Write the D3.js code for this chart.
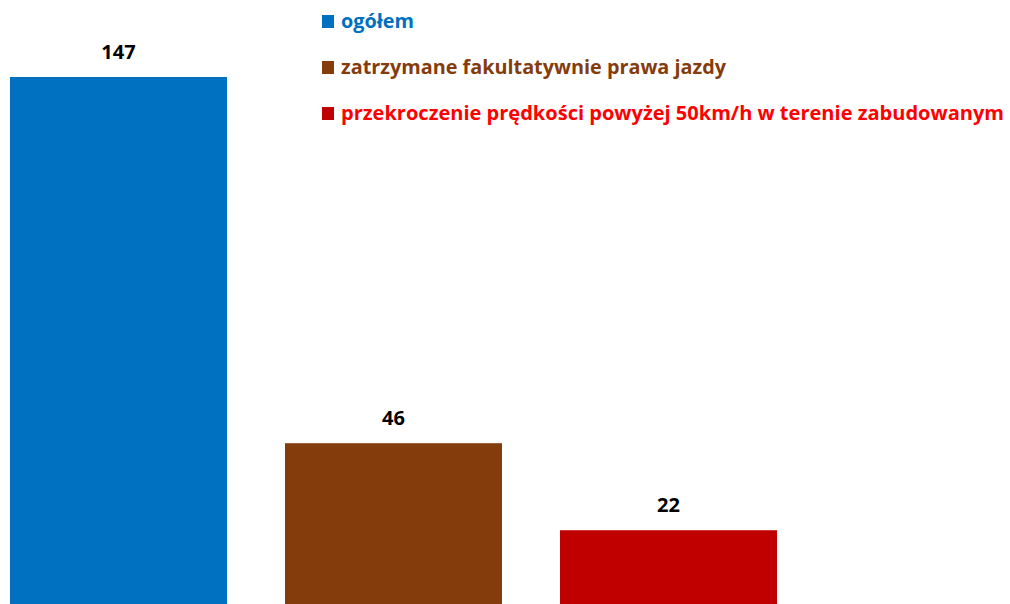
<!DOCTYPE html>
<html>
<head>
<meta charset="utf-8">
<script src="https://cdn.jsdelivr.net/npm/d3@7"></script>
<style>
  html, body { margin: 0; padding: 0; background: #fff; }
  svg { display: block; }
  text { font-family: "Open Sans", "Noto Sans", sans-serif; font-weight: bold; }
</style>
</head>
<body>
<svg id="chart" width="1010" height="604"></svg>
<script>
const categories = ["ogółem", "zatrzymane fakultatywnie prawa jazdy", "przekroczenie prędkości powyżej 50km/h w terenie zabudowanym"];
const values = [147, 46, 22];
const barColors = ["#0070C0", "#843C0C", "#C00000"];
const legendTextColors = ["#0070C0", "#843C0C", "#FF0000"];
const legendWidths = [73, 385, 663];

const svg = d3.select("#chart");

const x = d3.scaleBand()
  .domain(categories)
  .range([10, 777])
  .paddingInner(58 / 275)
  .paddingOuter(0);

const y = d3.scaleLinear()
  .domain([0, 147])
  .range([610, 77]);

svg.selectAll("rect.bar")
  .data(categories)
  .enter().append("rect")
  .attr("class", "bar")
  .attr("x", d => x(d))
  .attr("width", x.bandwidth())
  .attr("y", (d, i) => y(values[i]))
  .attr("height", (d, i) => y(0) - y(values[i]))
  .attr("fill", (d, i) => barColors[i]);

svg.selectAll("text.val")
  .data(categories)
  .enter().append("text")
  .attr("class", "val")
  .attr("x", d => x(d) + x.bandwidth() / 2)
  .attr("y", (d, i) => y(values[i]) - 18)
  .attr("text-anchor", "middle")
  .attr("font-size", 20)
  .attr("fill", "#000")
  .text((d, i) => values[i]);

const legendY = d3.scalePoint().domain(categories).range([28, 120]);

const lg = svg.append("g");
lg.selectAll("rect")
  .data(categories)
  .enter().append("rect")
  .attr("x", 322)
  .attr("y", d => legendY(d) - 13)
  .attr("width", 12)
  .attr("height", 13)
  .attr("fill", (d, i) => barColors[i]);

lg.selectAll("text")
  .data(categories)
  .enter().append("text")
  .attr("x", 341)
  .attr("y", d => legendY(d))
  .attr("font-size", 20)
  .attr("fill", (d, i) => legendTextColors[i])
  .attr("textLength", (d, i) => legendWidths[i])
  .attr("lengthAdjust", "spacingAndGlyphs")
  .text(d => d);
</script>
</body>
</html>
